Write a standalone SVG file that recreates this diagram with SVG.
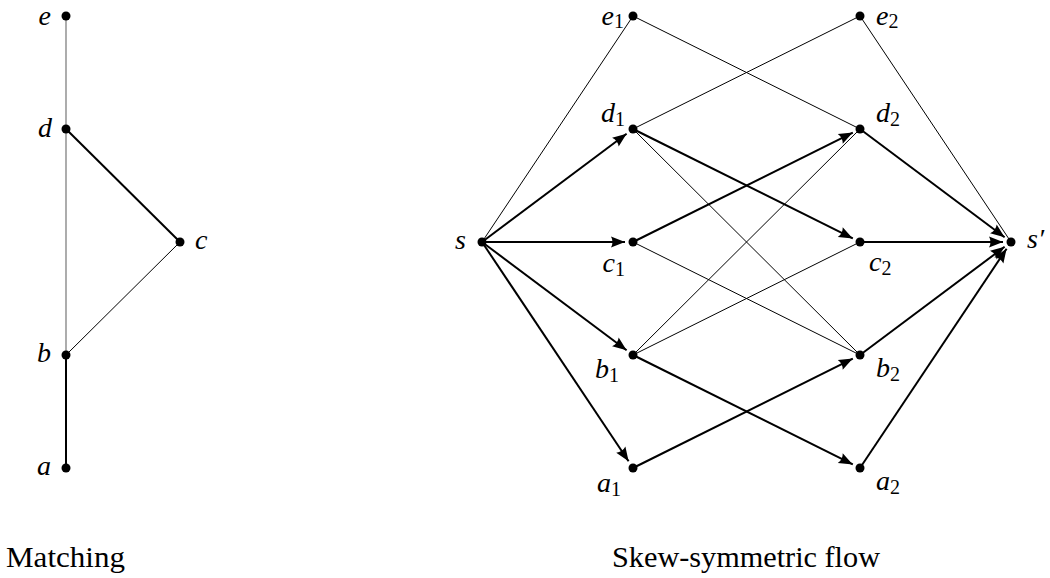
<svg xmlns="http://www.w3.org/2000/svg" width="1050" height="578" viewBox="0 0 1050 578">
<style>
.dot{fill:#000}
.lbl{font-family:'Liberation Serif','Times New Roman',Times,'DejaVu Serif',serif;font-style:italic;font-size:28px;fill:#000}
.sub{font-style:normal;font-size:20px}
.cap{font-family:'Liberation Serif','Times New Roman',Times,'DejaVu Serif',serif;font-size:30px;fill:#000}
.thin{stroke:#000;stroke-width:1;fill:none}
.gray{stroke:#808080;stroke-width:1.3;fill:none}
.thick{stroke:#000;stroke-width:2;fill:none}
.arr{stroke:#000;stroke-width:2;fill:none;marker-end:url(#ah)}
</style>
<defs>
<marker id="ah" markerUnits="userSpaceOnUse" markerWidth="20" markerHeight="14" refX="15" refY="6" orient="auto" viewBox="0 0 20 14">
<path d="M15,6 L1,0.5 Q4,6 1,11.5 Z" fill="#000"/>
</marker>
</defs>
<rect width="1050" height="578" fill="#fff"/>
<g id="connectors">
<line class="gray" x1="66" y1="16" x2="66" y2="355"/>
<line class="thick" x1="66" y1="129" x2="180" y2="242"/>
<line class="thin" x1="180" y1="242" x2="66" y2="355"/>
<line class="thick" x1="66" y1="355" x2="66" y2="468"/>
<line class="thin" x1="482" y1="242" x2="633" y2="16"/>
<line class="thin" x1="633" y1="16" x2="860" y2="129"/>
<line class="thin" x1="633" y1="129" x2="860" y2="16"/>
<line class="thin" x1="860" y1="16" x2="1011" y2="242"/>
<line class="thin" x1="633" y1="129" x2="860" y2="355"/>
<line class="thin" x1="633" y1="242" x2="860" y2="355"/>
<line class="thin" x1="633" y1="355" x2="860" y2="129"/>
<line class="thin" x1="633" y1="355" x2="860" y2="242"/>
<line class="arr" x1="482" y1="242" x2="626.6" y2="133.8"/>
<line class="arr" x1="482" y1="242" x2="625" y2="242"/>
<line class="arr" x1="482" y1="242" x2="626.6" y2="350.2"/>
<line class="arr" x1="482" y1="242" x2="628.6" y2="461.3"/>
<line class="arr" x1="633" y1="129" x2="852.8" y2="238.4"/>
<line class="arr" x1="633" y1="242" x2="852.8" y2="132.6"/>
<line class="arr" x1="633" y1="355" x2="852.8" y2="464.4"/>
<line class="arr" x1="633" y1="468" x2="852.8" y2="358.6"/>
<line class="arr" x1="860" y1="129" x2="1004.6" y2="237.2"/>
<line class="arr" x1="860" y1="242" x2="1003" y2="242"/>
<line class="arr" x1="860" y1="355" x2="1004.6" y2="246.8"/>
<line class="arr" x1="860" y1="468" x2="1006.6" y2="248.7"/>
</g>
<g id="node-e"><circle class="dot" cx="66" cy="16" r="4.5"/><text class="lbl" x="51" y="25" text-anchor="end">e</text></g>
<g id="node-d"><circle class="dot" cx="66" cy="129" r="4.5"/><text class="lbl" x="52" y="137" text-anchor="end">d</text></g>
<g id="node-c"><circle class="dot" cx="180" cy="242" r="4.5"/><text class="lbl" x="195" y="249">c</text></g>
<g id="node-b"><circle class="dot" cx="66" cy="355" r="4.5"/><text class="lbl" x="51" y="362" text-anchor="end">b</text></g>
<g id="node-a"><circle class="dot" cx="66" cy="468" r="4.5"/><text class="lbl" x="51" y="475" text-anchor="end">a</text></g>
<g id="node-s"><circle class="dot" cx="482" cy="242" r="4.5"/><text class="lbl" x="466" y="249" text-anchor="end">s</text></g>
<g id="node-e1"><circle class="dot" cx="633" cy="16" r="4.5"/><text class="lbl" x="624" y="25" text-anchor="end">e<tspan class="sub" dy="3">1</tspan></text></g>
<g id="node-d1"><circle class="dot" cx="633" cy="129" r="4.5"/><text class="lbl" x="625" y="122" text-anchor="end">d<tspan class="sub" dy="4">1</tspan></text></g>
<g id="node-c1"><circle class="dot" cx="633" cy="242" r="4.5"/><text class="lbl" x="625" y="272" text-anchor="end">c<tspan class="sub" dy="4">1</tspan></text></g>
<g id="node-b1"><circle class="dot" cx="633" cy="355" r="4.5"/><text class="lbl" x="619" y="378" text-anchor="end">b<tspan class="sub" dy="4">1</tspan></text></g>
<g id="node-a1"><circle class="dot" cx="633" cy="468" r="4.5"/><text class="lbl" x="621" y="492" text-anchor="end">a<tspan class="sub" dy="4">1</tspan></text></g>
<g id="node-e2"><circle class="dot" cx="860" cy="16" r="4.5"/><text class="lbl" x="876" y="25">e<tspan class="sub" dy="3">2</tspan></text></g>
<g id="node-d2"><circle class="dot" cx="860" cy="129" r="4.5"/><text class="lbl" x="876" y="122">d<tspan class="sub" dy="4">2</tspan></text></g>
<g id="node-c2"><circle class="dot" cx="860" cy="242" r="4.5"/><text class="lbl" x="869" y="271">c<tspan class="sub" dy="4">2</tspan></text></g>
<g id="node-b2"><circle class="dot" cx="860" cy="355" r="4.5"/><text class="lbl" x="876" y="377">b<tspan class="sub" dy="4">2</tspan></text></g>
<g id="node-a2"><circle class="dot" cx="860" cy="468" r="4.5"/><text class="lbl" x="876" y="490">a<tspan class="sub" dy="4">2</tspan></text></g>
<g id="node-s2"><circle class="dot" cx="1011" cy="242" r="4.5"/><text class="lbl" x="1027" y="248">s′</text></g>
<text class="cap" x="6" y="567" textLength="119" lengthAdjust="spacingAndGlyphs">Matching</text>
<text class="cap" x="612" y="567" textLength="268" lengthAdjust="spacingAndGlyphs">Skew-symmetric flow</text>
</svg>
